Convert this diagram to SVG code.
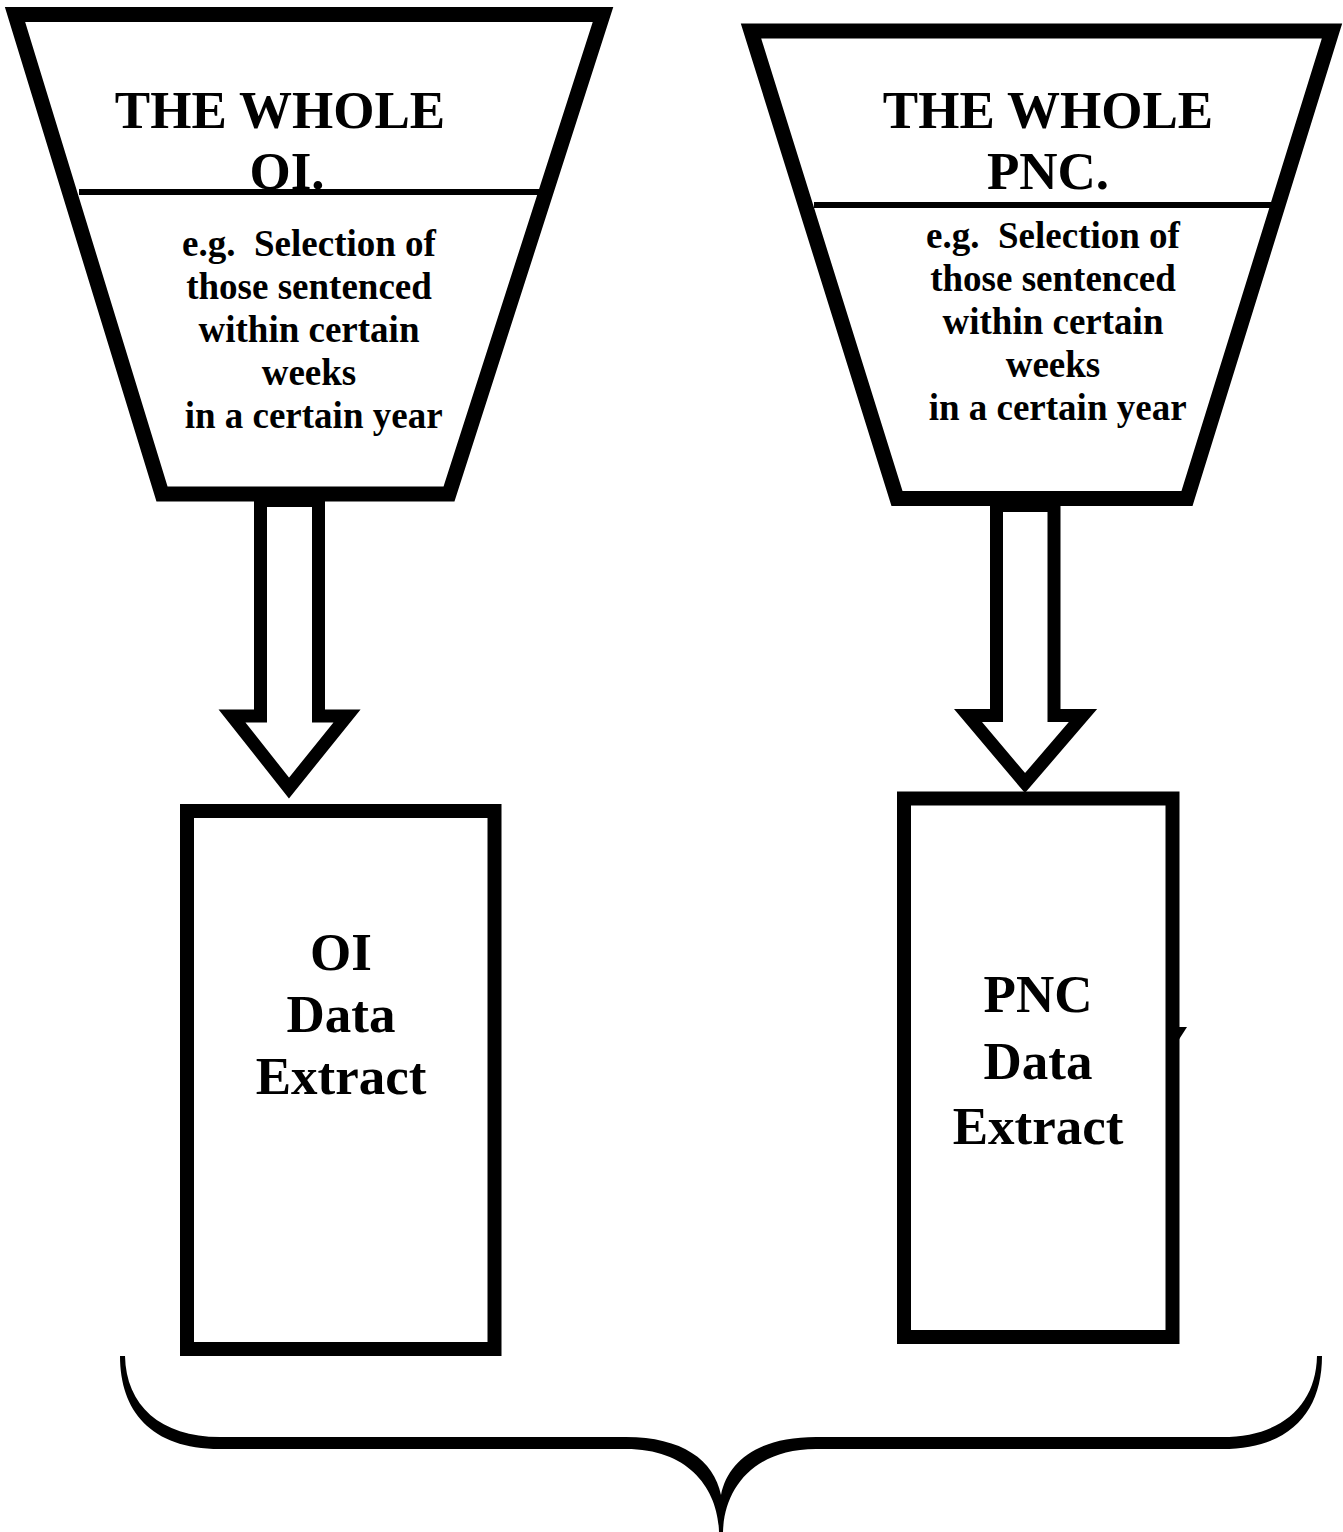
<svg xmlns="http://www.w3.org/2000/svg" width="1343" height="1532" viewBox="0 0 1343 1532">
<style>
.shape{fill:#fff;stroke:#000;stroke-linejoin:miter;stroke-miterlimit:10}
.funnel{stroke-width:15}
.box{stroke-width:14}
.arrow{stroke-width:13}
.div{stroke:#000;stroke-width:6}
text{font-family:"Liberation Serif","Times New Roman",serif;font-weight:bold;fill:#000;text-anchor:middle;white-space:pre}
.big{font-size:53px}
.small{font-size:37px}
</style>
<rect width="1343" height="1532" fill="#fff"/>
<g id="connectors">
<polygon class="shape arrow" points="260.5,500.5 318.5,500.5 318.5,716 347,716 289,788 232,716 260.5,716"/>
<polygon class="shape arrow" points="996.5,505.5 1054,505.5 1054,715.5 1083,715.5 1025,783 968,715.5 996.5,715.5"/>
<path d="M120,1356 C120,1410 150,1449 220,1449 L626,1449 C690,1449 718,1490 719,1532 L723,1532 C724,1490 752,1449 816,1449 L1222,1449 C1292,1449 1322,1410 1322,1356 L1317,1356 C1316,1405 1282,1437 1222,1437 L816,1437 C760,1437 728,1460 721,1495 C714,1460 682,1437 626,1437 L220,1437 C160,1437 126,1405 125,1356 Z" fill="#000"/>
</g>
<g id="funnel-oi">
<polygon class="shape funnel" points="15,14.5 603,14.5 449,494 162,494"/>
<line class="div" x1="79" y1="192" x2="542" y2="192"/>
<text class="big" x="280" y="128">THE WHOLE</text>
<text class="big" x="287" y="189">OI.</text>
<text class="small" x="309" y="256">e.g.  Selection of</text>
<text class="small" x="309" y="299">those sentenced</text>
<text class="small" x="309" y="342">within certain</text>
<text class="small" x="309" y="385">weeks</text>
<text class="small" x="309" y="428"> in a certain year</text>
</g>
<g id="funnel-pnc">
<polygon class="shape funnel" points="751,31 1332,31 1187,498.5 897,498.5"/>
<line class="div" x1="814" y1="205" x2="1275" y2="205"/>
<text class="big" x="1048" y="128">THE WHOLE</text>
<text class="big" x="1048" y="189">PNC.</text>
<text class="small" x="1053" y="248">e.g.  Selection of</text>
<text class="small" x="1053" y="291">those sentenced</text>
<text class="small" x="1053" y="334">within certain</text>
<text class="small" x="1053" y="377">weeks</text>
<text class="small" x="1053" y="420"> in a certain year</text>
</g>
<g id="box-oi">
<rect class="shape box" x="187" y="811" width="307.5" height="538"/>
<text class="big" x="341" y="970">OI</text>
<text class="big" x="341" y="1032">Data</text>
<text class="big" x="341" y="1094">Extract</text>
</g>
<g id="box-pnc">
<rect class="shape box" x="904" y="798.5" width="268.5" height="538.5"/>
<polygon points="1178,1027 1187,1027 1178,1041" fill="#000"/>
<text class="big" x="1038" y="1012">PNC</text>
<text class="big" x="1038" y="1079">Data</text>
<text class="big" x="1038" y="1144">Extract</text>
</g>
</svg>
